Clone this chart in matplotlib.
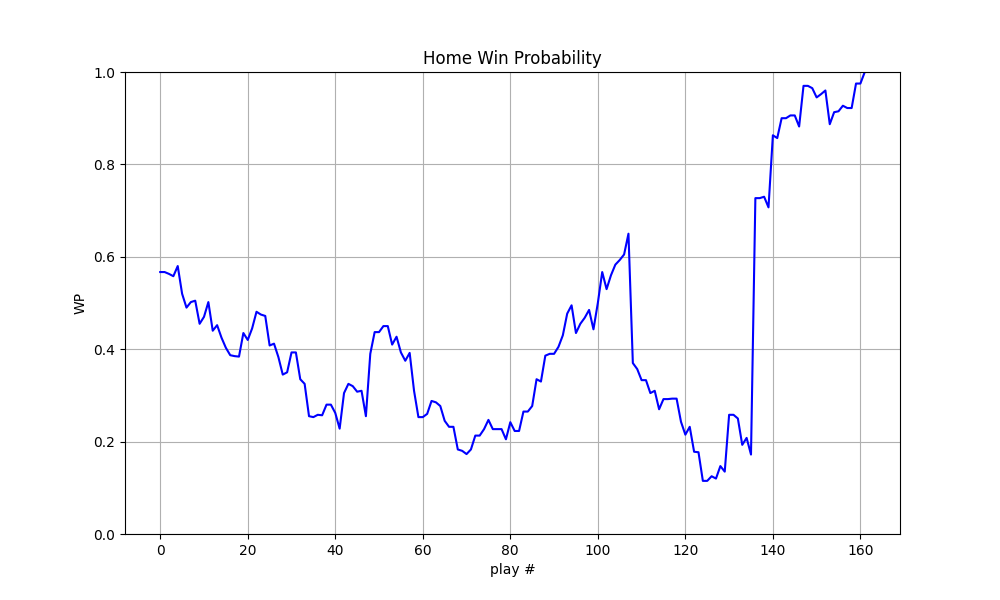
import matplotlib
matplotlib.use("Agg")
import matplotlib.pyplot as plt
import numpy as np

# home win probability after each play
wp = [
    0.567, 0.567, 0.563, 0.558, 0.580, 0.520, 0.490, 0.502, 0.505, 0.455,
    0.470, 0.502, 0.440, 0.452, 0.425, 0.403, 0.387, 0.385, 0.384, 0.435,
    0.420, 0.445, 0.481, 0.475, 0.472, 0.408, 0.412, 0.383, 0.345, 0.350,
    0.393, 0.393, 0.335, 0.325, 0.255, 0.253, 0.258, 0.257, 0.280, 0.280,
    0.262, 0.228, 0.305, 0.325, 0.320, 0.308, 0.310, 0.255, 0.390, 0.437,
    0.437, 0.450, 0.450, 0.410, 0.427, 0.393, 0.375, 0.392, 0.310, 0.253,
    0.253, 0.260, 0.288, 0.285, 0.277, 0.245, 0.232, 0.232, 0.183, 0.180,
    0.173, 0.183, 0.213, 0.213, 0.227, 0.247, 0.227, 0.227, 0.227, 0.205,
    0.242, 0.223, 0.223, 0.265, 0.265, 0.277, 0.335, 0.330, 0.386, 0.390,
    0.390, 0.405, 0.430, 0.477, 0.495, 0.435, 0.455, 0.468, 0.485, 0.443,
    0.500, 0.567, 0.530, 0.560, 0.583, 0.593, 0.605, 0.650, 0.370, 0.357,
    0.333, 0.333, 0.305, 0.310, 0.270, 0.292, 0.292, 0.293, 0.293, 0.243,
    0.215, 0.232, 0.178, 0.177, 0.115, 0.115, 0.125, 0.120, 0.147, 0.135,
    0.258, 0.258, 0.250, 0.193, 0.208, 0.172, 0.727, 0.727, 0.730, 0.707,
    0.863, 0.857, 0.900, 0.900, 0.906, 0.906, 0.882, 0.970, 0.970, 0.965,
    0.945, 0.952, 0.960, 0.887, 0.913, 0.915, 0.927, 0.922, 0.922, 0.975,
    0.975, 1.000,
]
plays = np.arange(len(wp))

fig, ax = plt.subplots(figsize=(10, 6))
ax.plot(plays, wp, color="b")
ax.set_ylim(0, 1)
ax.set_title("Home Win Probability")
ax.set_xlabel("play #")
ax.set_ylabel("WP")
ax.grid(True)

plt.savefig("out.png", dpi=100)
plt.close()
